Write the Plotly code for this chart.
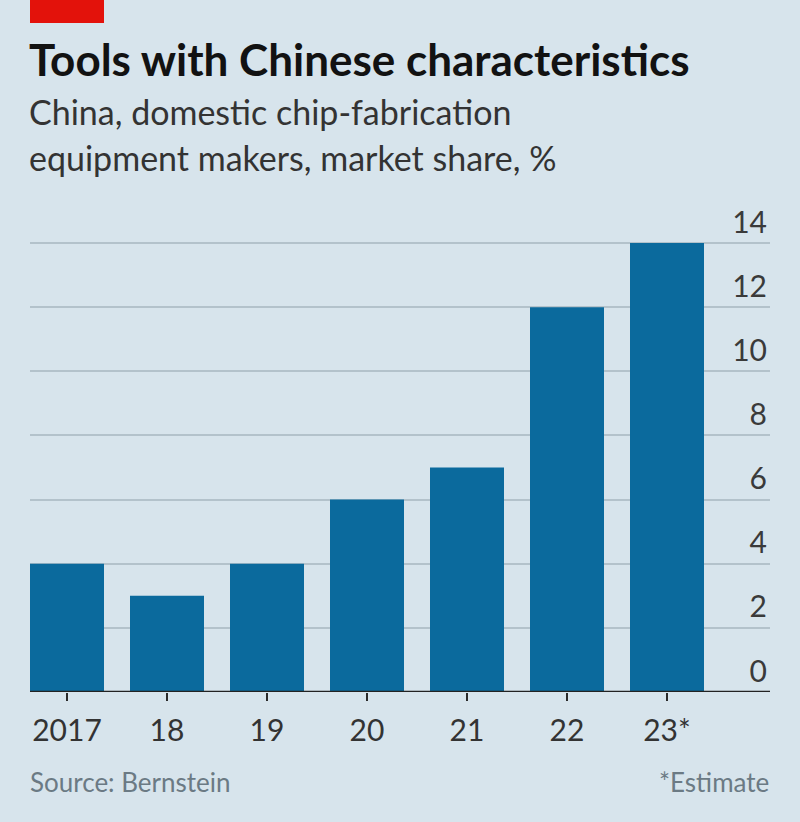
import plotly.graph_objects as go

years = ["2017", "18", "19", "20", "21", "22", "23*"]
share = [4, 3, 4, 6, 7, 12, 14]
y_ticks = [0, 2, 4, 6, 8, 10, 12, 14]

W, H = 800, 822
L, R, T, B = 30, 770, 200, 692
Y14 = 243  # pixel row of the 14 gridline
y_top = 14 * (B - T) / (B - Y14)

def px(x):
    return (x - L) / (R - L)

def py(y):
    return (B - y) / (B - T)

BG = "#d7e4ec"
BAR = "#0b6a9d"

fig = go.Figure()
fig.add_trace(go.Bar(
    x=list(range(len(years))), y=share, width=0.74,
    marker=dict(color=BAR, line=dict(width=0)),
    hoverinfo="skip",
))

fig.update_layout(
    width=W, height=H,
    margin=dict(l=L, r=W - R, t=T, b=H - B, pad=0),
    paper_bgcolor=BG, plot_bgcolor=BG,
    showlegend=False,
    font=dict(family="Lato", color="#333333"),
    xaxis=dict(
        range=[-0.37, 7.03],
        tickvals=list(range(len(years))), ticktext=years,
        ticks="outside", ticklen=8, tickwidth=2, tickcolor="#2a2a2a",
        ticklabelstandoff=4,
        showgrid=False, zeroline=False,
        showline=False,
        tickfont=dict(family="Lato", size=30, color="#333333"),
        fixedrange=True,
    ),
    yaxis=dict(
        range=[0, y_top], side="right",
        tickvals=y_ticks, ticktext=[str(v) for v in y_ticks],
        ticklabelposition="inside top", ticks="",
        showgrid=True, gridcolor="#b3c2cb", gridwidth=2,
        zeroline=False, showline=False,
        tickfont=dict(family="Lato", size=30, color="#3a3a3a"),
        fixedrange=True,
    ),
    shapes=[
        dict(type="rect", xref="paper", yref="paper",
             x0=px(30), x1=px(104), y0=py(0), y1=py(23),
             fillcolor="#e3120b", line=dict(width=0)),
        dict(type="line", xref="paper", yref="y",
             x0=0, x1=1, y0=0, y1=0,
             line=dict(color="#222222", width=2.5)),
    ],
    annotations=[
        dict(text="<b>Tools with Chinese characteristics</b>", xref="paper", yref="paper",
             x=px(27), y=py(59), xanchor="left", yanchor="middle", showarrow=False,
             font=dict(family="Lato", size=44, color="#121212")),
        dict(text="China, domestic chip-fabrication", xref="paper", yref="paper",
             x=px(27), y=py(112), xanchor="left", yanchor="middle", showarrow=False,
             font=dict(family="Lato", size=34, color="#333333")),
        dict(text="equipment makers, market share, %", xref="paper", yref="paper",
             x=px(27), y=py(157), xanchor="left", yanchor="middle", showarrow=False,
             font=dict(family="Lato", size=34, color="#333333")),
        dict(text="Source: Bernstein", xref="paper", yref="paper",
             x=px(28), y=py(782), xanchor="left", yanchor="middle", showarrow=False,
             font=dict(family="Lato", size=26, color="#6b7a84")),
        dict(text="*Estimate", xref="paper", yref="paper",
             x=px(771), y=py(782), xanchor="right", yanchor="middle", showarrow=False,
             font=dict(family="Lato", size=26, color="#6b7a84")),
    ],
)

fig.write_html("out.html", config={"displayModeBar": False},
               post_script="document.body.style.margin='0';")
